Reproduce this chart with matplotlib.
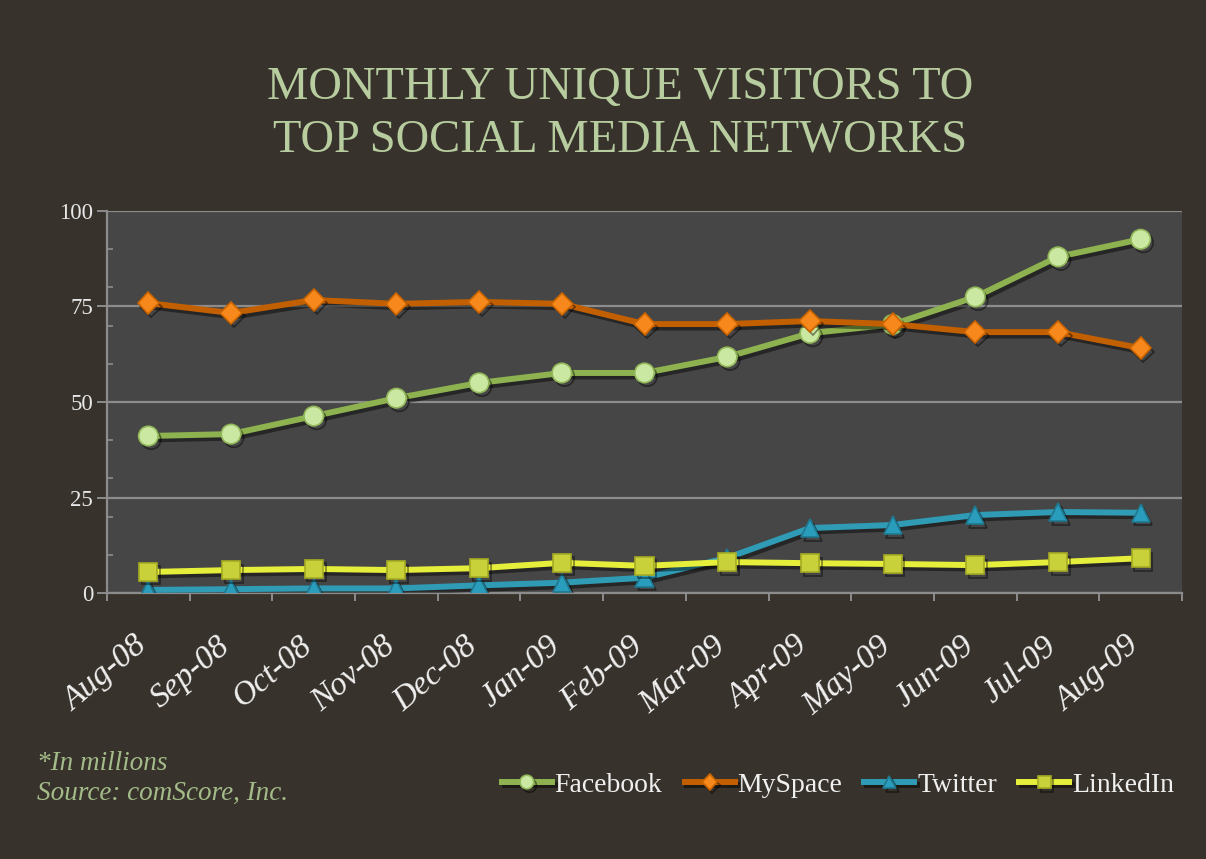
import matplotlib
matplotlib.use("Agg")
import matplotlib.pyplot as plt
import matplotlib.patheffects as pe
import matplotlib.transforms as mtransforms
import numpy as np

months = ["Aug-08", "Sep-08", "Oct-08", "Nov-08", "Dec-08", "Jan-09", "Feb-09",
          "Mar-09", "Apr-09", "May-09", "Jun-09", "Jul-09", "Aug-09"]
facebook = [41.1, 41.6, 46.3, 51.0, 55.0, 57.6, 57.6, 61.8, 68.0, 70.3, 77.5, 88.0, 92.6]
myspace = [75.9, 73.3, 76.7, 75.7, 76.2, 75.7, 70.4, 70.4, 71.2, 70.4, 68.3, 68.3, 64.1]
twitter = [0.8, 1.0, 1.2, 1.2, 2.0, 2.7, 4.0, 9.2, 17.0, 17.8, 20.4, 21.2, 21.0]
linkedin = [5.5, 6.0, 6.3, 6.0, 6.5, 7.9, 7.1, 8.1, 7.8, 7.6, 7.3, 8.1, 9.1]
yticks = [0, 25, 50, 75, 100]

BG = "#37322b"
PLOT_BG = "#464646"
GRID = "#8c8c8c"
SERIF = ["Liberation Serif", "DejaVu Serif"]

W, H = 1206, 859
fig = plt.figure(figsize=(W / 100, H / 100), dpi=100, facecolor=BG)
ax = fig.add_axes([107 / W, 1 - 593 / H, (1182 - 107) / W, (593 - 211) / H])
ax.set_facecolor(PLOT_BG)

x = np.arange(len(months))
shadow = [pe.SimpleLineShadow(offset=(2, -2.5), shadow_color="black", alpha=0.45), pe.Normal()]

series = [
    ("Facebook", facebook, "#8db24f", "o", "#cbe8a2", "#93b85a", 14),
    ("MySpace", myspace, "#c25f00", "D", "#f7891c", "#c96400", 11),
    ("Twitter", twitter, "#2f9bb5", "^", "#2a9cbc", "#1f7890", 13),
    ("LinkedIn", linkedin, "#e6ee3c", "s", "#c8d03a", "#a6ac22", 13),
]
for name, vals, lc, mk, mfc, mec, ms in series:
    ax.plot(x, vals, color=lc, lw=4.3, marker=mk, markersize=ms,
            markerfacecolor=mfc, markeredgecolor=mec, markeredgewidth=1.2,
            label=name, path_effects=shadow, zorder=3)

ax.set_xlim(-0.5, len(months) - 0.5)
ax.set_ylim(0, 100)

ax.set_yticks(yticks)
ax.set_yticks(np.arange(0, 101, 10), minor=True)
ax.yaxis.grid(True, which="major", color=GRID, lw=1.6)
ax.set_axisbelow(True)
ax.tick_params(axis="y", which="major", direction="out", length=7, width=1.4,
               color=GRID, labelcolor="#e8e8e8", labelsize=16.5, pad=3)
ax.tick_params(axis="y", which="minor", direction="in", length=4.5, width=1.2, color=GRID)
for lab in ax.get_yticklabels():
    lab.set_family(SERIF)

ax.set_xticks(np.arange(-0.5, len(months), 1.0))
ax.set_xticklabels([])
ax.set_xticks(x, minor=True)
ax.set_xticklabels(months, minor=True, rotation=40, ha="right", va="baseline",
                   rotation_mode="anchor", family=SERIF, style="italic",
                   fontsize=24, color="#f0f0f0")
shift = mtransforms.ScaledTranslation(2 / 100, 0, fig.dpi_scale_trans)
for lab in ax.get_xticklabels(minor=True):
    lab.set_transform(lab.get_transform() + shift)
ax.tick_params(axis="x", which="major", direction="out", length=6, width=1.4, color=GRID)
ax.tick_params(axis="x", which="minor", length=0, pad=40)

for s in ["top", "right"]:
    ax.spines[s].set_visible(False)
for s in ["left", "bottom"]:
    ax.spines[s].set_color(GRID)
    ax.spines[s].set_linewidth(1.6)

fig.text(620 / W, 1 - 88 / H, "MONTHLY UNIQUE VISITORS TO", ha="center", va="center",
         family=SERIF, fontsize=33.5, color="#b7cd9f")
fig.text(620 / W, 1 - 140 / H, "TOP SOCIAL MEDIA NETWORKS", ha="center", va="center",
         family=SERIF, fontsize=33.5, color="#b7cd9f")

fig.text(37 / W, 1 - 763 / H, "*In millions", ha="left", va="center", family=SERIF,
         style="italic", fontsize=19.5, color="#a3bb88")
fig.text(37 / W, 1 - 793 / H, "Source: comScore, Inc.", ha="left", va="center", family=SERIF,
         style="italic", fontsize=19.5, color="#a3bb88")

leg = fig.legend(loc="center right", bbox_to_anchor=(1174 / W, 1 - 785 / H), ncol=4,
                 frameon=False, prop={"family": SERIF, "size": 20},
                 handlelength=1.8, handletextpad=0.1, columnspacing=0.8, markerscale=0.7,
                 borderpad=0, borderaxespad=0)
for t in leg.get_texts():
    t.set_color("#f0f0f0")

fig.savefig("out.png", dpi=100, facecolor=BG)
